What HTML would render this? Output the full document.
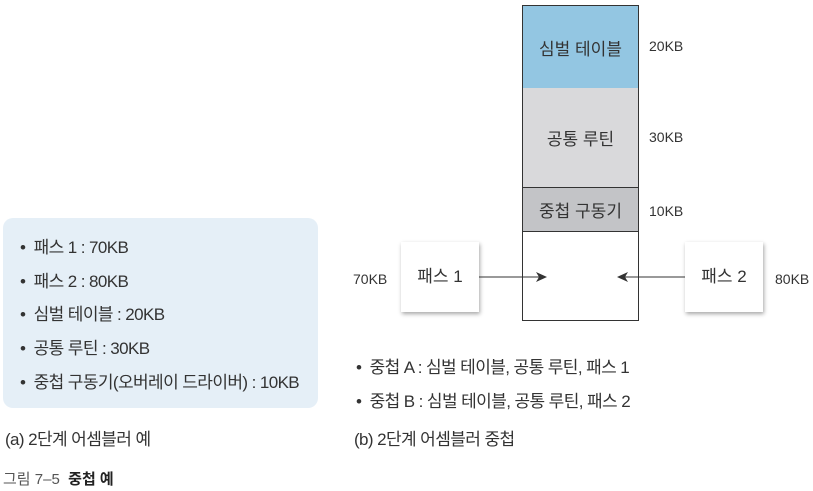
<!DOCTYPE html>
<html><head><meta charset="utf-8"><style>
body{margin:0;width:813px;height:491px;background:#fff;position:relative;overflow:hidden;font-family:"Liberation Sans","Noto Sans CJK KR",sans-serif;color:#333}
.a{position:absolute;white-space:nowrap}
.t{font-size:17px;letter-spacing:-0.6px}
.panel{position:absolute;left:3px;top:218px;width:315px;height:190px;background:#e5eff7;border-radius:10px}
.seg{position:absolute;left:522px;width:115px;border:1.5px solid #333;box-sizing:content-box}
.box{position:absolute;width:78px;height:70px;background:#fff;box-shadow:1px 2px 4px rgba(0,0,0,.35);font-size:17px;text-align:center;line-height:70px}
.c{display:flex;align-items:center;justify-content:center;font-size:17px}
</style></head><body>
<div class="panel"></div>
<div class="a t" style="left:20px;top:233px">•&nbsp; 패스 1 : 70KB</div>
<div class="a t" style="left:20px;top:267px">•&nbsp; 패스 2 : 80KB</div>
<div class="a t" style="left:20px;top:300px">•&nbsp; 심벌 테이블 : 20KB</div>
<div class="a t" style="left:20px;top:334px">•&nbsp; 공통 루틴 : 30KB</div>
<div class="a t" style="left:20px;top:368px">•&nbsp; 중첩 구동기(오버레이 드라이버) : 10KB</div>
<div class="a t" style="left:5px;top:425px">(a) 2단계 어셈블러 예</div>
<div class="a" style="left:3px;top:468px;font-size:15px;color:#555">그림 7–5 &nbsp;<b style="color:#222">중첩 예</b></div>

<div class="seg c" style="top:5px;height:82px;background:#93c6e2">심벌 테이블</div>
<div class="seg c" style="top:88px;height:99px;background:#d9d9db;border-top:none">공통 루틴</div>
<div class="seg c" style="top:188px;height:43px;background:#c3c4c7;border-top:none">중첩 구동기</div>
<div class="seg" style="top:232px;height:88px;background:#fff;border-top:none"></div>

<div class="a" style="left:649px;top:38px;font-size:14px">20KB</div>
<div class="a" style="left:649px;top:129px;font-size:14px">30KB</div>
<div class="a" style="left:649px;top:203px;font-size:14px">10KB</div>
<div class="a" style="left:353px;top:271px;font-size:14px">70KB</div>
<div class="a" style="left:775px;top:271px;font-size:14px">80KB</div>

<div class="box" style="left:401px;top:242px">패스 1</div>
<div class="box" style="left:685px;top:242px">패스 2</div>
<svg class="a" style="left:0;top:0" width="813" height="491">
<line x1="479" y1="277" x2="545" y2="277" stroke="#333" stroke-width="1"/>
<polygon points="547,277 536,272 539,277 536,282" fill="#333"/>
<line x1="685" y1="277" x2="619" y2="277" stroke="#333" stroke-width="1"/>
<polygon points="617,277 628,272 625,277 628,282" fill="#333"/>
</svg>

<div class="a t" style="left:356px;top:353px">•&nbsp; 중첩 A : 심벌 테이블, 공통 루틴, 패스 1</div>
<div class="a t" style="left:356px;top:387px">•&nbsp; 중첩 B : 심벌 테이블, 공통 루틴, 패스 2</div>
<div class="a t" style="left:354px;top:425px">(b) 2단계 어셈블러 중첩</div>
</body></html>
